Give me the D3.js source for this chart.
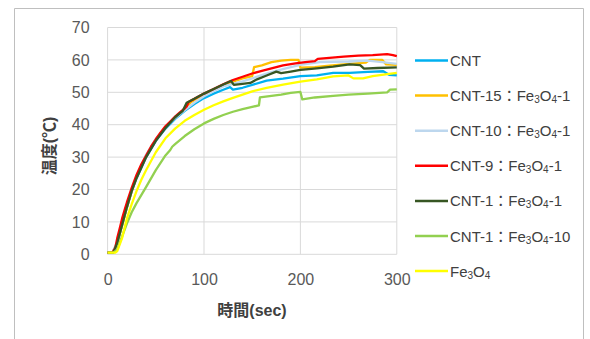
<!DOCTYPE html>
<html>
<head>
<meta charset="utf-8">
<script src="https://cdn.jsdelivr.net/npm/d3@7"></script>
<style>
  body { margin: 0; background: #fff; }
  svg { display: block; }
</style>
</head>
<body>
<div id="chart"></div>
<script>
// --- data (time sec, temperature °C) ---
const cnt = [[0,0.5],[5,0.5],[10,3.5],[15,9],[20,14.5],[25,19.5],[30,23.5],[40,30],[50,35],[60,38.8],[70,41.8],[80,44.3],[90,46.4],[100,48.2],[110,49.6],[120,50.8],[127,51.6],[130,50.8],[140,51.4],[150,52.3],[165,53.6],[182,54.2],[200,55],[217,55.2],[234,56],[251,56],[270,56.3],[286,56.5],[292,55.4],[300,55.2]];
const cnt15 = [[0,0.5],[5,0.5],[10,3.5],[15,9],[20,14.5],[25,19.5],[30,23.8],[40,30.5],[50,35.4],[60,39.2],[70,42.3],[80,44.8],[86,46.8],[90,47.6],[100,49.3],[110,50.8],[120,52.1],[130,53.3],[140,54.3],[150,55],[152,57.8],[160,58.3],[170,59.3],[180,59.8],[190,60],[198,60],[200,57.6],[215,57.8],[230,58.2],[245,58.6],[260,59],[268,59.2],[272,60],[285,60],[289,58.6],[300,58.5]];
const cnt10 = [[0,0.5],[5,0.5],[10,4],[15,9.5],[20,15],[25,20],[30,24],[40,30.8],[50,35.6],[60,39.2],[70,42],[80,44.5],[90,46.8],[100,48.8],[110,50.3],[120,51.8],[130,52.6],[140,53.4],[150,54.3],[160,55.3],[170,56.2],[180,57],[190,57.8],[200,58.5],[220,59.3],[250,59.5],[270,59.8],[285,59.3],[300,58.8]];
const cnt9 = [[0,0.5],[5,0.5],[8,2],[10,5],[13,8.5],[15,11],[18,14],[20,16],[25,20.5],[30,24.5],[35,27.8],[40,30.5],[45,33.2],[50,35.5],[55,37.6],[60,39.5],[65,41],[70,42.5],[75,43.8],[80,45],[82,45.6],[84,47],[90,48],[100,49.6],[110,51],[120,52.5],[130,53.8],[140,54.8],[150,55.8],[160,56.6],[170,57.4],[182,58.3],[195,58.9],[205,59.3],[215,59.6],[218,60.3],[230,60.6],[245,61],[260,61.3],[275,61.5],[290,61.8],[296,61.5],[300,61.2]];
const cnt1 = [[0,0.5],[6,0.5],[10,3.5],[15,9],[20,14.5],[25,19.5],[30,23.5],[40,30],[50,35],[60,39],[70,42.3],[78,44.3],[82,46.8],[90,48],[100,49.6],[110,51],[120,52.4],[128,53.5],[131,52.3],[140,52.6],[148,52.9],[155,54],[165,55.2],[175,56.4],[180,55.9],[190,56.4],[200,56.9],[217,57.4],[234,57.9],[251,58.6],[262,58.4],[266,57.3],[280,57.5],[300,57.7]];
const cnt1fe10 = [[0,0.5],[6,0.5],[10,1.5],[15,5.5],[20,9.5],[25,13],[30,15.8],[40,20.8],[50,26],[60,30.5],[65,32.2],[67,33.2],[70,34],[80,36.5],[90,38.6],[100,40.4],[110,41.8],[120,43],[130,44],[140,44.8],[150,45.5],[157,46],[158,48.4],[170,48.9],[180,49.3],[190,49.8],[200,50.1],[202,47.8],[215,48.4],[234,48.9],[250,49.3],[270,49.6],[290,50],[293,50.8],[300,50.9]];
const fe3o4 = [[0,0.5],[8,0.5],[10,1],[15,5],[20,11],[25,15.5],[30,19.5],[35,23],[40,26],[50,31.5],[60,35.8],[70,38.8],[80,41.2],[90,43],[100,44.6],[110,46],[120,47.2],[130,48.3],[140,49.3],[150,50.3],[165,51.4],[182,52.4],[200,53.3],[217,54],[234,54.9],[250,55.2],[255,54.3],[265,54.3],[275,55],[290,55.6],[300,56]];

const xTicks = [0, 100, 200, 300];
const yTicks = [0, 10, 20, 30, 40, 50, 60, 70];

// legend label pieces: odd pieces are subscripts (Fe3O4)
const series = [
  { label: ['CNT'], color: '#00B0F0', values: cnt },
  { label: ['CNT-15：Fe', '3', 'O', '4', '-1'], color: '#FFC000', values: cnt15 },
  { label: ['CNT-10：Fe', '3', 'O', '4', '-1'], color: '#BDD7EE', values: cnt10 },
  { label: ['CNT-9：Fe', '3', 'O', '4', '-1'], color: '#FF0000', values: cnt9 },
  { label: ['CNT-1：Fe', '3', 'O', '4', '-1'], color: '#375623', values: cnt1 },
  { label: ['CNT-1：Fe', '3', 'O', '4', '-10'], color: '#92D050', values: cnt1fe10 },
  { label: ['Fe', '3', 'O', '4'], color: '#FFFF00', values: fe3o4 }
];

const W = 590, H = 339;
const plot = { left: 107.6, right: 396.8, top: 27.5, bottom: 254.3 };
const font = '"Liberation Sans", "Noto Sans CJK JP", sans-serif';

const svg = d3.select('#chart').append('svg').attr('width', W).attr('height', H);

// chart frame
svg.append('path')
  .attr('d', `M14.5,${H + 2} V8.5 H583.5 V${H + 2}`)
  .attr('fill', 'none').attr('stroke', '#BFBFBF').attr('stroke-width', 1);

const x = d3.scaleLinear().domain([0, 300]).range([plot.left, plot.right]);
const y = d3.scaleLinear().domain([0, 70]).range([plot.bottom, plot.top]);

// grid
svg.append('g').selectAll('line').data(yTicks).join('line')
  .attr('x1', plot.left).attr('x2', plot.right)
  .attr('y1', d => y(d)).attr('y2', d => y(d))
  .attr('stroke', '#D9D9D9').attr('stroke-width', 1);
svg.append('g').selectAll('line').data(xTicks).join('line')
  .attr('x1', d => x(d)).attr('x2', d => x(d))
  .attr('y1', plot.top).attr('y2', plot.bottom)
  .attr('stroke', '#D9D9D9').attr('stroke-width', 1);

// tick labels
const yAxis = svg.append('g')
  .attr('transform', `translate(${plot.left},0)`)
  .call(d3.axisLeft(y).tickValues(yTicks).tickSize(0).tickPadding(18));
yAxis.select('.domain').remove();
yAxis.selectAll('text').style('font-family', font).style('font-size', '16px').style('fill', '#595959');

const xAxis = svg.append('g')
  .attr('transform', `translate(0,${plot.bottom})`)
  .call(d3.axisBottom(x).tickValues(xTicks).tickSize(0).tickPadding(19));
xAxis.select('.domain').remove();
xAxis.selectAll('text').style('font-family', font).style('font-size', '16px').style('fill', '#595959');

// lines
const line = d3.line().x(d => x(d[0])).y(d => y(d[1]));
series.forEach(s => {
  svg.append('path')
    .datum(s.values)
    .attr('d', line)
    .attr('fill', 'none')
    .attr('stroke', s.color)
    .attr('stroke-width', 2.3)
    .attr('stroke-linejoin', 'round');
});

// axis titles
svg.append('text')
  .attr('x', 252).attr('y', 316)
  .attr('text-anchor', 'middle')
  .style('font-family', font).style('font-size', '16px').style('font-weight', 'bold').style('fill', '#404040')
  .text('時間(sec)');
svg.append('text')
  .attr('transform', 'translate(55,146) rotate(-90)')
  .attr('text-anchor', 'middle')
  .style('font-family', font).style('font-size', '16px').style('font-weight', 'bold').style('fill', '#404040')
  .text('温度(℃)');

// legend
const legend = svg.append('g');
series.forEach((s, i) => {
  const ly = 60.5 + i * 35.1;
  legend.append('line')
    .attr('x1', 415).attr('x2', 448).attr('y1', ly).attr('y2', ly)
    .attr('stroke', s.color).attr('stroke-width', 2.5);
  const t = legend.append('text')
    .attr('x', 450).attr('y', ly + 5.5)
    .style('font-family', font).style('font-size', '15px').style('fill', '#404040');
  s.label.forEach((part, j) => {
    const sub = j % 2 === 1;
    t.append('tspan')
      .attr('font-size', sub ? '10px' : null)
      .attr('baseline-shift', sub ? '-2' : null)
      .text(part);
  });
});
</script>
</body>
</html>
